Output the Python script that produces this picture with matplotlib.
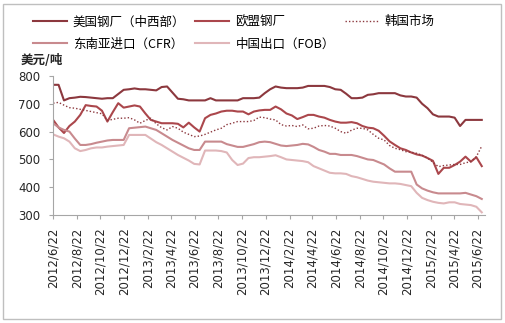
import matplotlib
matplotlib.use("Agg")
import matplotlib.pyplot as plt
from matplotlib.patches import Rectangle
import pandas as pd

plt.rcParams['font.family'] = ['DejaVu Sans']
cjk = ['Noto Sans CJK SC', 'DejaVu Sans']

# price samples, one every two weeks (USD/ton)
dates = pd.date_range('2012-06-22', periods=80, freq='14D')

us_midwest = [768, 768, 712, 720, 722, 725, 724, 722, 720, 718,
              720, 720, 735, 750, 752, 755, 752, 752, 750, 748,
              760, 762, 740, 718, 716, 712, 712, 712, 712, 720,
              712, 712, 712, 712, 712, 720, 720, 720, 722, 738,
              752, 762, 758, 756, 756, 756, 758, 764, 764, 764,
              764, 760, 752, 750, 736, 720, 720, 722, 732, 734,
              738, 738, 738, 738, 730, 726, 726, 722, 700, 684,
              662, 654, 654, 654, 650, 620, 642, 642, 642, 642]

eu_mill = [642, 615, 595, 620, 636, 660, 695, 692, 690, 675,
           636, 670, 702, 686, 690, 694, 690, 665, 642, 636,
           630, 630, 630, 628, 615, 632, 615, 600, 648, 660,
           665, 672, 675, 675, 672, 672, 662, 672, 676, 678,
           678, 690, 680, 665, 658, 645, 652, 660, 660, 654,
           650, 642, 636, 632, 632, 634, 630, 620, 614, 612,
           603, 585, 565, 552, 540, 534, 525, 518, 514, 505,
           495, 448, 470, 470, 480, 492, 510, 492, 508, 476]

korea = [702, 705, 695, 686, 684, 680, 676, 672, 668, 664,
         640, 644, 648, 648, 650, 642, 630, 640, 648, 628,
         614, 606, 618, 612, 598, 590, 582, 584, 590, 598,
         606, 612, 625, 630, 636, 636, 636, 640, 652, 650,
         645, 642, 625, 620, 622, 618, 624, 610, 612, 620,
         622, 620, 612, 600, 594, 605, 612, 612, 606, 590,
         576, 570, 550, 540, 535, 528, 526, 522, 515, 505,
         490, 474, 478, 480, 482, 482, 488, 492, 510, 548]

sea_cfr = [630, 615, 606, 600, 575, 552, 552, 555, 560, 564,
           568, 570, 570, 570, 612, 614, 616, 618, 612, 606,
           594, 582, 570, 560, 550, 540, 534, 534, 564, 564,
           564, 564, 555, 550, 545, 545, 550, 555, 562, 564,
           562, 556, 550, 548, 550, 552, 556, 554, 545, 534,
           528, 520, 520, 516, 516, 516, 512, 506, 500, 498,
           490, 482, 468, 456, 456, 456, 456, 410, 396, 388,
           382, 378, 378, 378, 378, 378, 380, 374, 368, 358]

china_fob = [590, 582, 576, 564, 540, 530, 534, 540, 543, 543,
             546, 548, 550, 552, 588, 588, 588, 588, 575, 562,
             552, 540, 528, 516, 506, 496, 484, 482, 532, 532,
             532, 530, 525, 498, 480, 485, 505, 508, 508, 510,
             512, 515, 508, 500, 498, 496, 494, 490, 476, 468,
             460, 452, 450, 450, 448, 440, 436, 430, 424, 420,
             418, 416, 414, 414, 412, 408, 404, 380, 362, 354,
             348, 344, 342, 346, 346, 340, 338, 336, 330, 310]

names = ['美国钢厂（中西部）', '欧盟钢厂', '韩国市场',
         '东南亚进口（CFR）', '中国出口（FOB）']

fig = plt.figure(figsize=(5.06, 3.23), dpi=100)
ax = fig.add_axes([0.105, 0.334, 0.854, 0.431])

l_us, = ax.plot(dates, us_midwest, color='#8c383e', lw=1.5)
l_eu, = ax.plot(dates, eu_mill, color='#ab474c', lw=1.5)
l_kr, = ax.plot(dates, korea, color='#8c383e', lw=1.0, linestyle=(0, (1, 1.5)))
l_cfr, = ax.plot(dates, sea_cfr, color='#c88a8e', lw=1.5)
l_fob, = ax.plot(dates, china_fob, color='#e0b6b9', lw=1.5)

ax.set_ylim(300, 800)
ax.set_yticks([300, 400, 500, 600, 700, 800])
ax.set_xlim(pd.Timestamp('2012-06-22'), pd.Timestamp('2015-07-12'))

# a tick on the 22nd of every other month
ticks = pd.date_range('2012-06-01', '2015-06-01', freq='2MS') + pd.Timedelta(days=21)
ax.set_xticks(ticks)
ax.set_xticklabels([f'{d.year}/{d.month}/{d.day}' for d in ticks], rotation=90)

for s in ['top', 'right']:
    ax.spines[s].set_visible(False)
for s in ['left', 'bottom']:
    ax.spines[s].set_color('#a6a6a6')
    ax.spines[s].set_linewidth(0.8)
ax.tick_params(axis='both', colors='#a6a6a6', length=3, width=0.8,
               labelcolor='#262626', labelsize=8.5, pad=6)

fig.text(0.04, 1 - 60 / 323, '美元/吨', family=cjk, fontsize=9,
         fontweight='bold', va='center', ha='left', color='#262626')

fig.legend([l_us, l_cfr, l_eu, l_fob, l_kr],
           [names[0], names[3], names[1], names[4], names[2]],
           loc='upper left', bbox_to_anchor=(0.055, 0.968), ncol=3,
           frameon=False, prop={'family': cjk, 'size': 9},
           handlelength=2.7, handletextpad=0.5, columnspacing=0.8,
           labelspacing=0.75, borderaxespad=0)

fig.patches.append(Rectangle((0.006, 0.012), 0.985, 0.976,
                             transform=fig.transFigure, fill=False,
                             edgecolor='#bfbfbf', lw=1))

fig.savefig('out.png', dpi=100)
